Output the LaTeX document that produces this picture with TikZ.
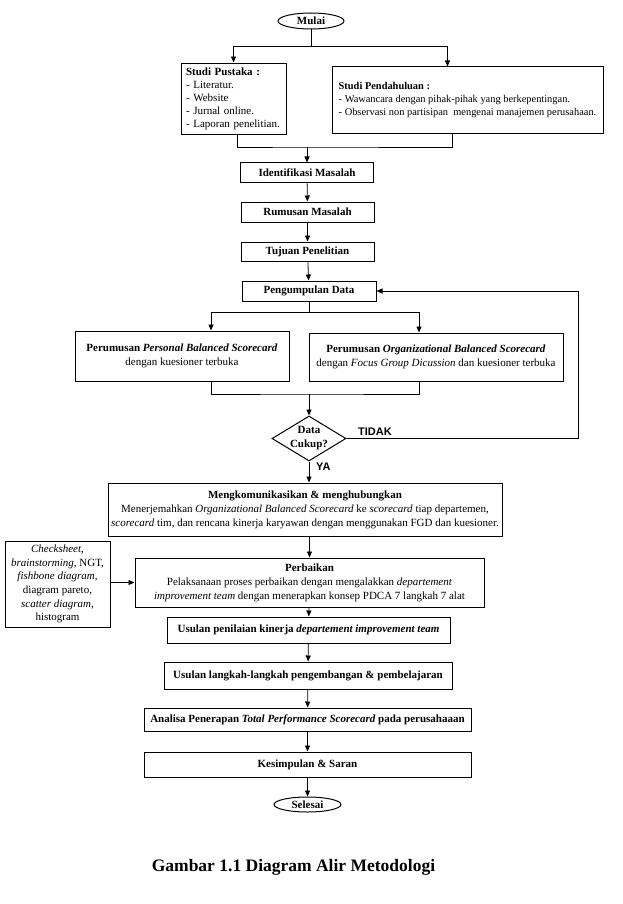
\documentclass[tikz,border=0pt]{standalone}
\usepackage{fontspec}
\setmainfont{Liberation Serif}
\newfontfamily\arialfont{Liberation Sans}
\usetikzlibrary{shapes.geometric,arrows.meta}
\begin{document}
\begin{tikzpicture}[x=1pt,y=-1pt,
    >={Triangle[length=6pt,width=5pt]},
    line/.style={line width=0.8pt},
    box/.style={draw,line width=1pt,rectangle,align=center,inner sep=2pt,
      font=\fontsize{11}{14}\selectfont},
    listbox/.style={box,align=left,inner sep=5pt,font=\fontsize{11}{13}\selectfont},
    endpoint/.style={draw,line width=1pt,ellipse,inner sep=0pt,
      font=\fontsize{11}{13}\selectfont\bfseries},
    question/.style={draw,line width=1pt,diamond,aspect=1.64,inner sep=-1pt,
      align=center,font=\fontsize{11}{14}\selectfont\bfseries},
    yesno/.style={font=\fontsize{11}{13}\selectfont\arialfont\bfseries,inner sep=0pt}]
				\useasboundingbox (0,0) rectangle (622,904);

				% awal
				\node [endpoint,minimum width=66pt,minimum height=16pt] (mulai) at (311,21) {Mulai};
				\node [listbox,text width=95pt,minimum height=66pt] (pustaka) at (233.5,99)
					{\textbf{Studi Pustaka :}\\- Literatur.\\- Website\\- Jurnal online.\\- Laporan penelitian.};
				\node [listbox,font=\fontsize{10.4}{13}\selectfont,inner sep=4pt,minimum width=271pt,minimum height=67pt] (pendahuluan) at (467.5,100.5)
					{\textbf{Studi Pendahuluan :}\\- Wawancara dengan pihak-pihak yang berkepentingan.\\- Observasi non partisipan~ mengenai manajemen perusahaan.};
				\coordinate (topbar) at (311,46);
				\coordinate (botbar) at (307,147);
				\draw [line] (mulai) -- (topbar);
				\draw [line,->] (topbar) -| (pustaka.north);
				\draw [line,->] (topbar) -| ([xshift=-20pt]pendahuluan.north);
				\draw [line] ([xshift=3.5pt]pustaka.south) |- (botbar) -| ([xshift=-15.5pt]pendahuluan.south);

				% tahap awal penelitian
				\node [box,font=\fontsize{11}{13}\selectfont\bfseries,minimum width=133pt,minimum height=20pt] (identifikasi) at (307,173) {Identifikasi Masalah};
				\node [box,font=\fontsize{11}{13}\selectfont\bfseries,minimum width=133pt,minimum height=20pt] (rumusan) at (307.5,212) {Rumusan Masalah};
				\node [box,font=\fontsize{11}{13}\selectfont\bfseries,minimum width=133pt,minimum height=19pt] (tujuan) at (307.5,251.5) {Tujuan Penelitian};
				\node [box,font=\fontsize{11}{13}\selectfont\bfseries,minimum width=134pt,minimum height=20pt] (pengumpulan) at (309,291) {Pengumpulan Data};
				\draw [line,->] (botbar) -- (botbar |- identifikasi.north);
				\draw [line,->] (identifikasi) -- (rumusan);
				\draw [line,->] (rumusan) -- (tujuan);
				\draw [line,->] (tujuan) -- (pengumpulan);

				% perumusan scorecard
				\node [box,minimum width=214pt,minimum height=50pt] (personal) at (182,356)
					{\textbf{Perumusan \textit{Personal Balanced Scorecard}}\\dengan kuesioner terbuka};
				\node [box,minimum width=254pt,minimum height=48pt] (organizational) at (436,357)
					{\textbf{Perumusan \textit{Organizational Balanced Scorecard}}\\dengan \textit{Focus Group Dicussion} dan kuesioner terbuka};
				\coordinate (midbar) at (309,312);
				\coordinate (lowbar) at (309,394);
				\draw [line] (pengumpulan) -- (midbar);
				\draw [line,->] (midbar) -| ([xshift=29pt]personal.north);
				\draw [line,->] (midbar) -| ([xshift=-17pt]organizational.north);
				\draw [line] ([xshift=29pt]personal.south) |- (lowbar) -| ([xshift=-17pt]organizational.south);

				% keputusan
				\node [question,minimum width=74pt,minimum height=45pt] (cukup) at (309,438.5) {Data\\Cukup?};
				\coordinate (loop) at (578,439);
				\draw [line,->] (lowbar) -- (cukup);
				\draw [line,->] (cukup.east) -- (cukup.east -| loop) |- (pengumpulan.east);
				\node [yesno,anchor=south west] (tidak) at (358,436) {TIDAK};

				% tahap lanjutan
				\node [box,minimum width=394pt,minimum height=53pt] (komunikasi) at (305,509.5)
					{\textbf{Mengkomunikasikan \& menghubungkan}\\Menerjemahkan \textit{Organizational Balanced Scorecard} ke \textit{scorecard} tiap departemen,\\\textit{scorecard} tim, dan rencana kinerja karyawan dengan menggunakan FGD dan kuesioner.};
				\draw [line,->] (cukup) -- (cukup |- komunikasi.north);
				\node [yesno,anchor=west] (ya) at (316,467) {YA};
				\node [box,minimum width=349pt,minimum height=49pt] (perbaikan) at (309.5,582.5)
					{\textbf{Perbaikan}\\Pelaksanaan proses perbaikan dengan mengalakkan \textit{departement}\\\textit{improvement team} dengan menerapkan konsep PDCA 7 langkah 7 alat};
				\node [box,font=\fontsize{11}{13.7}\selectfont,minimum width=105pt,minimum height=86pt] (alat) at (57.5,584)
					{\textit{Checksheet},\\\textit{brainstorming}, NGT,\\\textit{fishbone diagram},\\diagram pareto,\\\textit{scatter diagram},\\histogram};
				\draw [line,->] (perbaikan.north |- komunikasi.south) -- (perbaikan.north);
				\draw [line,->] (alat.east |- perbaikan.west) -- (perbaikan.west);

				\node [box,font=\fontsize{11}{13}\selectfont\bfseries,minimum width=283pt,minimum height=26pt] (penilaian) at (308.5,630)
					{Usulan penilaian kinerja \textit{departement improvement team}};
				\node [box,font=\fontsize{11}{13}\selectfont\bfseries,minimum width=288pt,minimum height=27pt] (langkah) at (308,675.5)
					{Usulan langkah-langkah pengembangan \& pembelajaran};
				\node [box,font=\fontsize{11}{13}\selectfont\bfseries,minimum width=327pt,minimum height=23pt] (analisa) at (307.5,719.5)
					{Analisa Penerapan \textit{Total Performance Scorecard} pada perusahaaan};
				\node [box,font=\fontsize{11}{13}\selectfont\bfseries,minimum width=327pt,minimum height=25pt] (kesimpulan) at (307.5,764.5)
					{Kesimpulan \& Saran};
				\node [endpoint,minimum width=67pt,minimum height=15pt] (selesai) at (307.5,804.5) {Selesai};
				\draw [line,->] (perbaikan) -- (penilaian);
				\draw [line,->] (penilaian) -- (langkah);
				\draw [line,->] (langkah) -- (analisa);
				\draw [line,->] (analisa) -- (kesimpulan);
				\draw [line,->] (kesimpulan) -- (selesai);

				\node [font=\fontsize{17.5}{20}\selectfont\bfseries] (judul) at (293.5,867) {Gambar 1.1 Diagram Alir Metodologi};
\end{tikzpicture}
\end{document}
